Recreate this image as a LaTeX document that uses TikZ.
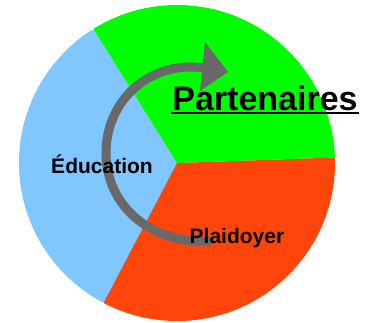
\documentclass[tikz,border=0pt]{standalone}
\usepackage{fontspec}
\setmainfont{Liberation Sans}
\definecolor{blueS}{HTML}{80C6FF}
\definecolor{greenS}{HTML}{00FF00}
\definecolor{redS}{HTML}{FF450A}
\definecolor{greyA}{HTML}{696969}
\tikzset{lab/.style={inner sep=0pt,anchor=center,text=black,font=\bfseries\fontsize{21}{21}\selectfont}}
\begin{document}
\begin{tikzpicture}[x=1pt,y=-1pt]
\useasboundingbox (0,0) rectangle (376,323);
\coordinate (c) at (177,163);
\def\R{158}
\begin{scope}
\clip (c) circle[radius=\R];
\fill[blueS] (c) -- (94,30) -- (-20,50) -- (-20,300) -- (104,302) -- cycle;
\fill[greenS] (c) -- (94,30) -- (80,7) -- (100,-10) -- (390,-10) -- (390,157) -- (335,157.5) -- cycle;
\fill[redS] (c) -- (335,157.5) -- (390,157) -- (390,340) -- (90,340) -- (104,302) -- cycle;
\end{scope}
\draw[greyA,line width=9pt] (205,68) .. controls (150,60) and (106,100) .. (106,153) .. controls (106,205) and (150,245) .. (212,241);
\fill[greyA] (228,72) -- (205,42) -- (200,91) -- cycle;
\node[inner sep=0pt,font=\bfseries\fontsize{34}{34}\selectfont] (p) at (265,98) {Partenaires};
\coordinate (ua) at (171,113);
\coordinate (ub) at (359,113);
\draw[black,line width=1.6pt] (ua) -- (ub);
\node[lab] (e) at (102,164) {Éducation};
\node[lab] (pl) at (237,238) {Plaidoyer};
\end{tikzpicture}
\end{document}
